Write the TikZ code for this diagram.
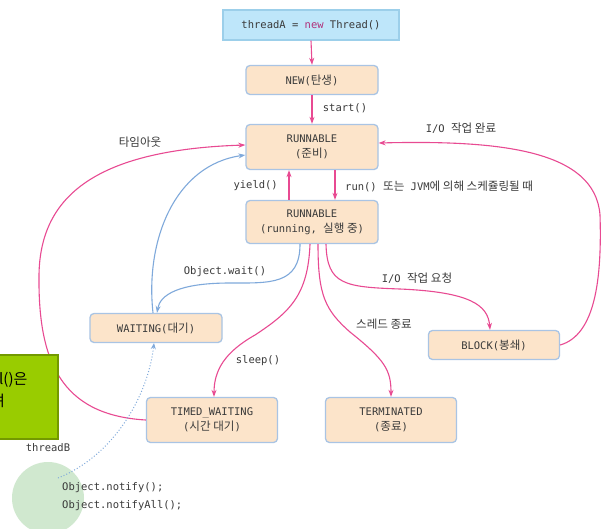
\documentclass[tikz,border=0pt]{standalone}
\usepackage{fontspec}
\setmainfont{DejaVu Sans Mono}
\newfontfamily\kr[Scale=1.1]{Noto Sans CJK KR}
\newfontfamily\krbig{Noto Sans CJK KR}
\usetikzlibrary{arrows.meta}
\newcommand\ko[1]{{\kr #1}}
\definecolor{pk}{HTML}{E84A92}
\definecolor{bl}{HTML}{7FA9DB}
\definecolor{pe}{HTML}{FCE4CA}
\definecolor{bd}{HTML}{A9C4E4}
\definecolor{tx}{HTML}{3A3A3A}
\definecolor{topf}{HTML}{BEE6FA}
\definecolor{topd}{HTML}{9CCFEA}
\definecolor{grf}{HTML}{99CC00}
\definecolor{grd}{HTML}{739900}
\definecolor{cir}{HTML}{D0E8CF}
\definecolor{nw}{HTML}{B0307A}
\tikzset{
 st/.style={draw=bd, fill=pe, rounded corners=4pt, line width=1.3pt, minimum width=132pt, align=center, text=tx, inner sep=2pt},
 pa/.style={draw=pk, line width=1.1pt, -{Stealth[length=7pt,width=5pt]}},
 ba/.style={draw=bl, line width=1.1pt, -{Stealth[length=7pt,width=5pt]}},
 lb/.style={text=tx, inner sep=1pt},
}
\begin{document}
\begin{tikzpicture}[x=1pt,y=-1pt,font=\fontsize{10.5}{15}\selectfont]
\useasboundingbox (0,0) rectangle (601,528);
\fill[white] (0,0) rectangle (601,528);
% green circle
\node[circle, fill=cir, minimum size=72pt, inner sep=0pt] (cB) at (48,498) {};
\coordinate (dstart) at (58,478);
% nodes
\node[draw=topd, fill=topf, line width=1.3pt, minimum width=176pt, minimum height=30pt, text=tx] (tA) at (311,25) {threadA = {\color{nw}new} Thread()};
\node[st, minimum height=29pt] (new) at (312,80) {NEW(\ko{탄생})};
\node[st, minimum height=45pt] (rdy) at (312,147) {RUNNABLE\\(\ko{준비})};
\node[st, minimum height=43pt] (run) at (312,222) {RUNNABLE\\(running, \ko{실행 중})};
\node[st, minimum height=29pt] (wait) at (156,328) {WAITING(\ko{대기})};
\node[st, minimum height=29pt, minimum width=131pt] (block) at (494,345) {BLOCK(\ko{봉쇄})};
\node[st, minimum height=45pt, minimum width=131pt] (timed) at (212,420) {TIMED\_WAITING\\(\ko{시간 대기})};
\node[st, minimum height=45pt, minimum width=131pt] (term) at (391,420) {TERMINATED\\(\ko{종료})};
% straight arrows
\draw[pa] (tA.south) -- (new.north);
\draw[pa] (new.south) -- (rdy.north);
\draw[pa] ([xshift=-23pt]run.north) -- ([xshift=-23pt]rdy.south);
\draw[pa] ([xshift=23pt]rdy.south) -- ([xshift=23pt]run.north);
% blue
\draw[ba] ([xshift=-12pt]run.south) .. controls (300,285) and (270,283) .. (230,283) .. controls (178,283) and (160,295) .. ([xshift=1pt]wait.north);
\draw[ba] ([xshift=-3pt]wait.north) .. controls (145,240) and (175,165) .. ([yshift=-8pt]rdy.west);
% pink curves
\draw[pa] (timed.west) .. controls (60,415) and (38,360) .. (39,275) .. controls (40,200) and (90,150) .. ([yshift=2pt]rdy.west);
\draw[pa] ([xshift=-2pt]run.south) .. controls (308,295) and (290,312) .. (255,335) .. controls (225,352) and (214,370) .. ([xshift=2pt]timed.north);
\draw[pa] ([xshift=6pt]run.south) .. controls (318,295) and (325,310) .. (350,332) .. controls (385,360) and (391,370) .. (term.north);
\draw[pa] ([xshift=14pt]run.south) .. controls (327,285) and (345,287) .. (400,289) .. controls (470,292) and (488,305) .. ([xshift=-4pt]block.north);
\draw[pa] (block.east) .. controls (595,335) and (602,280) .. (600,215) .. controls (595,150) and (500,140) .. ([yshift=4pt]rdy.east);
% dotted
\draw[bl, line width=1pt, dotted, -{Stealth[length=6pt,width=5pt]}] (dstart) .. controls (115,455) and (148,395) .. ([xshift=-2pt]wait.south);
% labels
\node[lb] (l1) at (345,108) {start()};
\node[lb] (l2) at (140,142) {\ko{타임아웃}};
\node[lb] (l3) at (461,128) {I/O \ko{작업 완료}};
\node[lb, anchor=east] (l4) at (279,186) {yield()};
\node[lb, anchor=west] (l5) at (344,186) {run() \ko{또는} JVM\ko{에 의해 스케쥴링될 때}};
\node[lb] (l6) at (225,272) {Object.wait()};
\node[lb] (l7) at (417,278) {I/O \ko{작업 요청}};
\node[lb] (l8) at (384,324) {\ko{스레드 종료}};
\node[lb] (l9) at (258,361) {sleep()};
\node[lb] (l10) at (48,448) {threadB};
\node[lb, anchor=west] (l11) at (61,488) {Object.notify();};
\node[lb, anchor=west] (l12) at (61,506) {Object.notifyAll();};
% green box
\begin{scope}
\clip (0,345) rectangle (70,445);
\draw[fill=grf, draw=grd, line width=2pt] (-10,355) rectangle (58,439);
\node[anchor=west, inner sep=0pt, font=\krbig\fontsize{15}{18}\selectfont] (g1) at (-1,380) {l()은};
\node[anchor=west, inner sep=0pt, font=\krbig\fontsize{15}{18}\selectfont] (g2) at (-9,401) {려};
\end{scope}
\end{tikzpicture}
\end{document}
